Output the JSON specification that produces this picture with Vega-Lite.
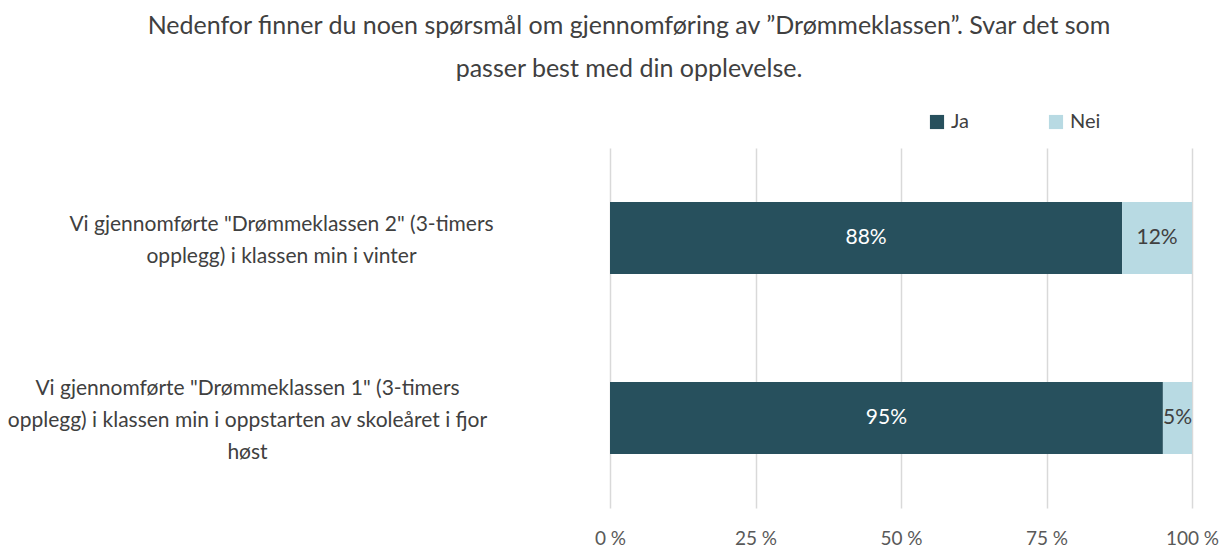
{
  "$schema": "https://vega.github.io/schema/vega-lite/v6.json",
  "width": 582,
  "height": 360,
  "autosize": {"type": "none"},
  "padding": {"left": 610, "top": 148, "right": 31, "bottom": 39},
  "background": "white",
  "config": {
    "view": {"stroke": null},
    "font": "Lato"
  },
  "title": {
    "text": ["Nedenfor finner du noen spørsmål om gjennomføring av ”Drømmeklassen”. Svar det som", "passer best med din opplevelse."],
    "frame": "group",
    "anchor": "middle",
    "dx": -272,
    "fontSize": 25,
    "fontWeight": "normal",
    "color": "#404040",
    "lineHeight": 43,
    "offset": 30
  },
  "data": {
    "values": [
      {"q": "Vi gjennomførte \"Drømmeklassen 2\" (3-timers|opplegg) i klassen min i vinter", "a": "Ja", "v": 0.88},
      {"q": "Vi gjennomførte \"Drømmeklassen 2\" (3-timers|opplegg) i klassen min i vinter", "a": "Nei", "v": 0.12},
      {"q": "Vi gjennomførte \"Drømmeklassen 1\" (3-timers|opplegg) i klassen min i oppstarten av skoleåret i fjor|høst", "a": "Ja", "v": 0.95},
      {"q": "Vi gjennomførte \"Drømmeklassen 1\" (3-timers|opplegg) i klassen min i oppstarten av skoleåret i fjor|høst", "a": "Nei", "v": 0.05}
    ]
  },
  "layer": [
    {
      "mark": {"type": "bar"},
      "encoding": {
        "y": {
          "field": "q",
          "type": "nominal",
          "sort": [
            "Vi gjennomførte \"Drømmeklassen 2\" (3-timers|opplegg) i klassen min i vinter",
            "Vi gjennomførte \"Drømmeklassen 1\" (3-timers|opplegg) i klassen min i oppstarten av skoleåret i fjor|høst"
          ],
          "scale": {"paddingInner": 0.6, "paddingOuter": 0.3},
          "axis": {
            "title": null,
            "domain": false,
            "ticks": false,
            "labelExpr": "split(datum.label, '|')",
            "labelAlign": "center",
            "labelBaseline": "middle",
            "labelPadding": {"condition": {"test": "indexof(datum.value, 'fjor') >= 0", "value": 363}, "value": 329},
            "labelFontSize": 21,
            "labelColor": "#404040",
            "labelLineHeight": 32,
            "labelLimit": 0,
            "labelOffset": {"condition": {"test": "indexof(datum.value, 'fjor') >= 0", "value": -29}, "value": -13}
          }
        },
        "x": {
          "field": "v",
          "type": "quantitative",
          "stack": "zero",
          "scale": {"domain": [0, 1], "nice": false},
          "axis": {
            "title": null,
            "values": [0, 0.25, 0.5, 0.75, 1],
            "labelExpr": "round(datum.value * 100) + ' %'",
            "domain": false,
            "ticks": false,
            "grid": true,
            "gridColor": "#D9D9D9",
            "gridWidth": 1.5,
            "labelFontSize": 19,
            "labelColor": "#595959",
            "labelPadding": 21,
            "labelFlush": false
          }
        },
        "order": {"field": "a", "sort": "ascending"},
        "color": {
          "field": "a",
          "type": "nominal",
          "scale": {"domain": ["Ja", "Nei"], "range": ["#27505D", "#B8DAE3"]},
          "legend": {
            "title": null,
            "orient": "none",
            "direction": "horizontal",
            "legendX": 317,
            "legendY": -36,
            "symbolType": "square",
            "symbolSize": 200,
            "symbolStrokeWidth": 0,
            "labelFontSize": 20,
            "labelColor": "#404040",
            "labelOffset": 4,
            "columnPadding": 77
          }
        }
      }
    },
    {
      "mark": {"type": "text", "fontSize": 21, "baseline": "middle", "align": "center"},
      "encoding": {
        "y": {
          "field": "q",
          "type": "nominal",
          "sort": [
            "Vi gjennomførte \"Drømmeklassen 2\" (3-timers|opplegg) i klassen min i vinter",
            "Vi gjennomførte \"Drømmeklassen 1\" (3-timers|opplegg) i klassen min i oppstarten av skoleåret i fjor|høst"
          ]
        },
        "x": {"field": "v", "type": "quantitative", "stack": "zero", "bandPosition": 0.5},
        "detail": {"field": "a"},
        "order": {"field": "a", "sort": "ascending"},
        "text": {"field": "v", "type": "quantitative", "format": ".0%"},
        "color": {
          "condition": {"test": "datum.a === 'Ja'", "value": "#FFFFFF"},
          "value": "#404040"
        }
      }
    }
  ]
}
